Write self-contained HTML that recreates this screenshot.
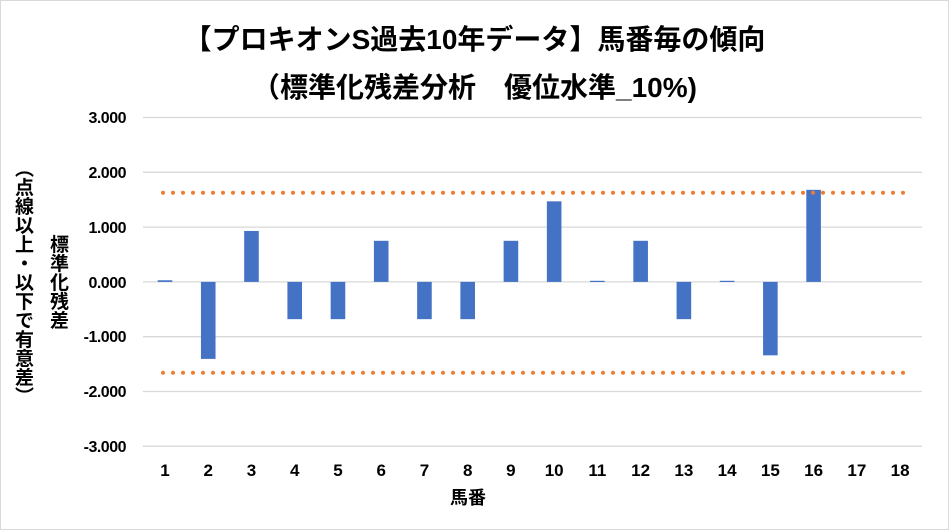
<!DOCTYPE html>
<html><head><meta charset="utf-8"><style>
body{margin:0;background:#fff;}
.wrap{position:relative;width:949px;height:530px;overflow:hidden;font-family:"Liberation Sans","Noto Sans CJK JP",sans-serif;font-weight:bold;color:#000;}
.border{position:absolute;left:0;top:0;width:947px;height:528px;border:1px solid #d9d9d9;}
.t{position:absolute;left:0;width:949px;text-align:center;}
.yl{position:absolute;writing-mode:vertical-rl;font-size:19px;line-height:22px;top:282px;transform:translateY(-50%);white-space:nowrap;}
</style></head><body><div class="wrap"><div class="border"></div>
<div class="t" style="top:18px;font-size:28px">【プロキオンS過去10年データ】馬番毎の傾向</div>
<div class="t" style="top:66px;font-size:28px">（標準化残差分析　優位水準_10%)</div>
<div class="yl" style="left:46px">標準化残差</div>
<div class="yl" style="left:11px">（点線以上・以下で有意差）</div>
<svg width="949" height="530" style="position:absolute;left:0;top:0">
<g stroke="#d9d9d9" stroke-width="1.3">
<line x1="143" x2="922" y1="117.5" y2="117.5"/><line x1="143" x2="922" y1="172.3" y2="172.3"/><line x1="143" x2="922" y1="227.1" y2="227.1"/><line x1="143" x2="922" y1="281.9" y2="281.9"/><line x1="143" x2="922" y1="336.7" y2="336.7"/><line x1="143" x2="922" y1="391.5" y2="391.5"/><line x1="143" x2="922" y1="446.3" y2="446.3"/>
</g>
<g font-size="16" font-weight="bold" text-anchor="end" font-family="Liberation Sans,sans-serif" letter-spacing="-0.5">
<text x="126" y="123">3.000</text><text x="126" y="178">2.000</text><text x="126" y="233">1.000</text><text x="126" y="288">0.000</text><text x="126" y="342">-1.000</text><text x="126" y="397">-2.000</text><text x="126" y="452">-3.000</text>
</g>
<g fill="#4472c4" id="bars"></g>
<g font-size="17" font-weight="bold" text-anchor="middle" font-family="Liberation Sans,sans-serif" id="xl"></g>
<line x1="163" x2="905" y1="192.7" y2="192.7" stroke="#ed7d31" stroke-width="4" stroke-linecap="round" stroke-dasharray="0 10"/>
<line x1="163" x2="905" y1="372.7" y2="372.7" stroke="#ed7d31" stroke-width="4" stroke-linecap="round" stroke-dasharray="0 10"/>
<text x="468" y="504" font-size="18" font-weight="bold" text-anchor="middle" font-family="Liberation Sans,Noto Sans CJK JP,sans-serif">馬番</text>
</svg>
<script>
var v=[0.03,-1.405,0.93,-0.68,-0.68,0.75,-0.68,-0.68,0.75,1.47,0.02,0.75,-0.68,0.02,-1.34,1.68,0,0];
var b='',l='';
for(var i=0;i<18;i++){var cx=165+i*43.24,y0=281.9,h=v[i]*54.8;
if(v[i]!==0)b+='<rect x="'+(cx-7.3)+'" y="'+(h>0?y0-h:y0)+'" width="14.6" height="'+Math.max(Math.abs(h),1.2)+'"/>';
l+='<text x="'+cx+'" y="476">'+(i+1)+'</text>';}
document.getElementById('bars').innerHTML=b;document.getElementById('xl').innerHTML=l;
</script>
</div></body></html>
